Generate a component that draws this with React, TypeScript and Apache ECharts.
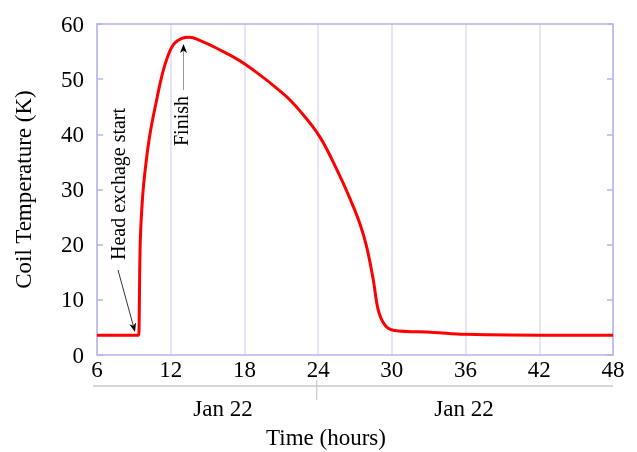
import React, { useEffect, useRef } from "react";
import * as echarts from "echarts";

const hours = [6, 9.38, 9.42, 9.52, 9.71, 9.98, 10.33, 10.88, 11.28, 11.69, 12.23, 12.9, 13.5, 14.4, 15.75, 18, 21.2, 22.5, 24.15, 25.8, 26.6, 27.4, 27.95, 28.49, 28.9, 29.44, 30.1, 33.4, 36, 42, 48];
const temps = [3.6, 3.6, 4.5, 20.3, 28.6, 34.7, 40.3, 46.5, 50.6, 53.7, 56.3, 57.4, 57.6, 57.0, 55.6, 52.8, 47.3, 44.3, 39.5, 32.3, 28.3, 23.8, 19.6, 13.6, 8.1, 5.4, 4.5, 4.1, 3.75, 3.6, 3.6];
const dayLabels = ["Jan 22", "Jan 22"];
const xTitle = "Time (hours)";
const yTitle = "Coil Temperature (K)";
const startNote = "Head exchage start";
const finishNote = "Finish";

const FONT = "Liberation Serif";
const BORDER = "#b4b4ec";
const GRIDC = "#dedef6";

export default function App() {
  const ref = useRef<HTMLDivElement>(null);
  useEffect(() => {
    if (!ref.current) return;
    const chart = echarts.init(ref.current, null, { renderer: "svg" });
    const data = hours.map((h, i) => [h, temps[i]]);
    const txt = { fontFamily: FONT, fontSize: 23, color: "#000" };
    chart.setOption({
      animation: false,
      grid: { left: 97, right: 24, top: 24, bottom: 97 },
      xAxis: [
        {
          type: "value", min: 6, max: 48, interval: 6, position: "bottom",
          axisLine: { show: true, lineStyle: { color: BORDER, width: 1.5 } },
          axisTick: { show: false },
          axisLabel: { ...txt, margin: 3 },
          splitLine: { show: true, lineStyle: { color: GRIDC, width: 1.5 } },
        },
        {
          type: "value", min: 6, max: 48, interval: 6, position: "top",
          axisLine: { show: true, onZero: false, lineStyle: { color: BORDER, width: 1.5 } },
          axisTick: { show: false }, axisLabel: { show: false }, splitLine: { show: false },
        },
      ],
      yAxis: [
        {
          type: "value", min: 0, max: 60, interval: 10, position: "left",
          axisLine: { show: true, onZero: false, lineStyle: { color: BORDER, width: 1.5 } },
          axisTick: { show: true, inside: true, length: 6, lineStyle: { color: BORDER, width: 1.5 } },
          axisLabel: { ...txt, margin: 13 },
          splitLine: { show: false },
          name: yTitle, nameLocation: "middle", nameGap: 62, nameRotate: 90,
          nameTextStyle: { ...txt },
        },
        {
          type: "value", min: 0, max: 60, interval: 10, position: "right",
          axisLine: { show: true, onZero: false, lineStyle: { color: BORDER, width: 1.5 } },
          axisTick: { show: true, inside: true, length: 6, lineStyle: { color: BORDER, width: 1.5 } },
          axisLabel: { show: false }, splitLine: { show: false },
        },
      ],
      series: [
        {
          type: "line", data, xAxisIndex: 0, yAxisIndex: 0,
          showSymbol: false, smooth: 0.4,
          lineStyle: { color: "#ff0000", width: 3 },
        },
      ],
      graphic: [
        { type: "line", shape: { x1: 93, y1: 386, x2: 613, y2: 386 }, style: { stroke: "#c8c8c8", lineWidth: 1.5 } },
        { type: "line", shape: { x1: 316.7, y1: 380, x2: 316.7, y2: 400 }, style: { stroke: "#c8c8c8", lineWidth: 1.2 } },
        { type: "text", x: 223, y: 408, style: { text: dayLabels[0], font: `23px "${FONT}"`, fill: "#000", textAlign: "center", textVerticalAlign: "middle" } },
        { type: "text", x: 464, y: 408, style: { text: dayLabels[1], font: `23px "${FONT}"`, fill: "#000", textAlign: "center", textVerticalAlign: "middle" } },
        { type: "text", x: 326, y: 437, style: { text: xTitle, font: `23px "${FONT}"`, fill: "#000", textAlign: "center", textVerticalAlign: "middle" } },
        { type: "text", x: 118, y: 184, rotation: Math.PI / 2, style: { text: startNote, font: `20px "${FONT}"`, fill: "#000", textAlign: "center", textVerticalAlign: "middle" } },
        { type: "text", x: 181, y: 121, rotation: Math.PI / 2, style: { text: finishNote, font: `20px "${FONT}"`, fill: "#000", textAlign: "center", textVerticalAlign: "middle" } },
        { type: "line", shape: { x1: 118, y1: 270, x2: 133.3, y2: 325.7 }, style: { stroke: "#333", lineWidth: 1 } },
        { type: "polygon", shape: { points: [[135, 332], [129.3, 324.2], [133.3, 325.7], [136.0, 322.4]] }, style: { fill: "#000" } },
        { type: "line", shape: { x1: 183.5, y1: 90, x2: 183.5, y2: 50 }, style: { stroke: "#999", lineWidth: 1 } },
        { type: "polygon", shape: { points: [[183.5, 44], [180, 53], [183.5, 50.5], [187, 53]] }, style: { fill: "#000" } },
      ],
    });
    return () => chart.dispose();
  }, []);
  return <div ref={ref} style={{ position: "fixed", left: 0, top: 0, width: 637, height: 452 }} />;
}
